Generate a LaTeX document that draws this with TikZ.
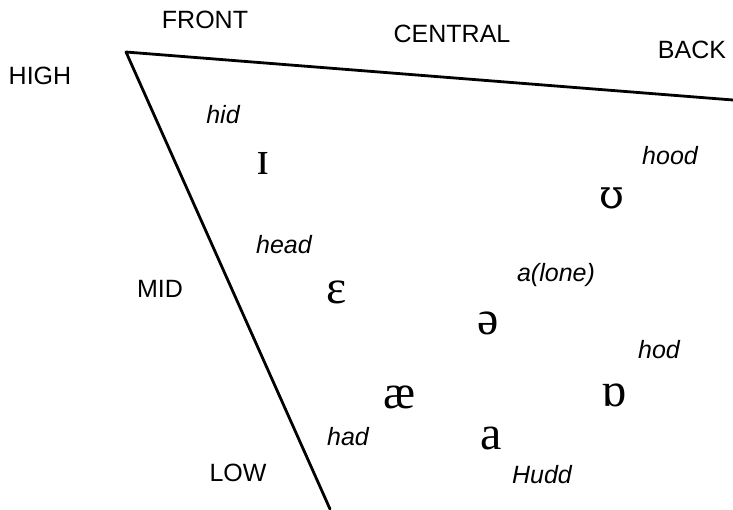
\documentclass[tikz,border=0pt]{standalone}
\usepackage{fontspec}
\setmainfont{Liberation Sans}
\newfontfamily\ipafont{Liberation Serif}
\newfontfamily\ipaalt{DejaVu Serif}
\begin{document}
\begin{tikzpicture}[x=1pt,y=-1pt,
  lbl/.style={font=\fontsize{25}{30}\selectfont, inner sep=0pt},
  word/.style={font=\fontsize{25}{30}\selectfont\itshape, inner sep=0pt},
  ipa/.style={font=\fontsize{48}{52}\ipafont, inner sep=0pt},
  edge/.style={line width=2.8pt, line cap=round, line join=round}]
\useasboundingbox (0,0) rectangle (733,509);
\coordinate (hf) at (126,52);
\coordinate (hb) at (733,100);
\coordinate (lf) at (330,509);
\draw[edge] (hb) -- (hf) -- (lf);
\node[lbl] (front) at (205,20) {FRONT};
\node[lbl] (central) at (452,34) {CENTRAL};
\node[lbl] (back) at (692,50) {BACK};
\node[lbl] (high) at (40,76) {HIGH};
\node[lbl] (mid) at (160,289) {MID};
\node[lbl] (low) at (238,473) {LOW};
\node[word] (hid) at (223,115) {hid};
\node[ipa] (i) at (263,163) {ɪ};
\node[word] (hood) at (670,156) {hood};
\node[ipa, font=\fontsize{40}{44}\ipaalt] (u) at (612,198) {ʊ};
\node[word] (head) at (284,245) {head};
\node[word] (alone) at (556,275) {a(lone)};
\node[ipa] (e) at (337,292) {ɛ};
\node[ipa] (schwa) at (488,323) {ə};
\node[word] (hod) at (659,350) {hod};
\node[ipa] (o) at (614,395) {ɒ};
\node[ipa] (ae) at (400,397) {æ};
\node[word] (had) at (348,437) {had};
\node[ipa] (a) at (491,438) {a};
\node[word] (hudd) at (542,475) {Hudd};
\end{tikzpicture}
\end{document}
